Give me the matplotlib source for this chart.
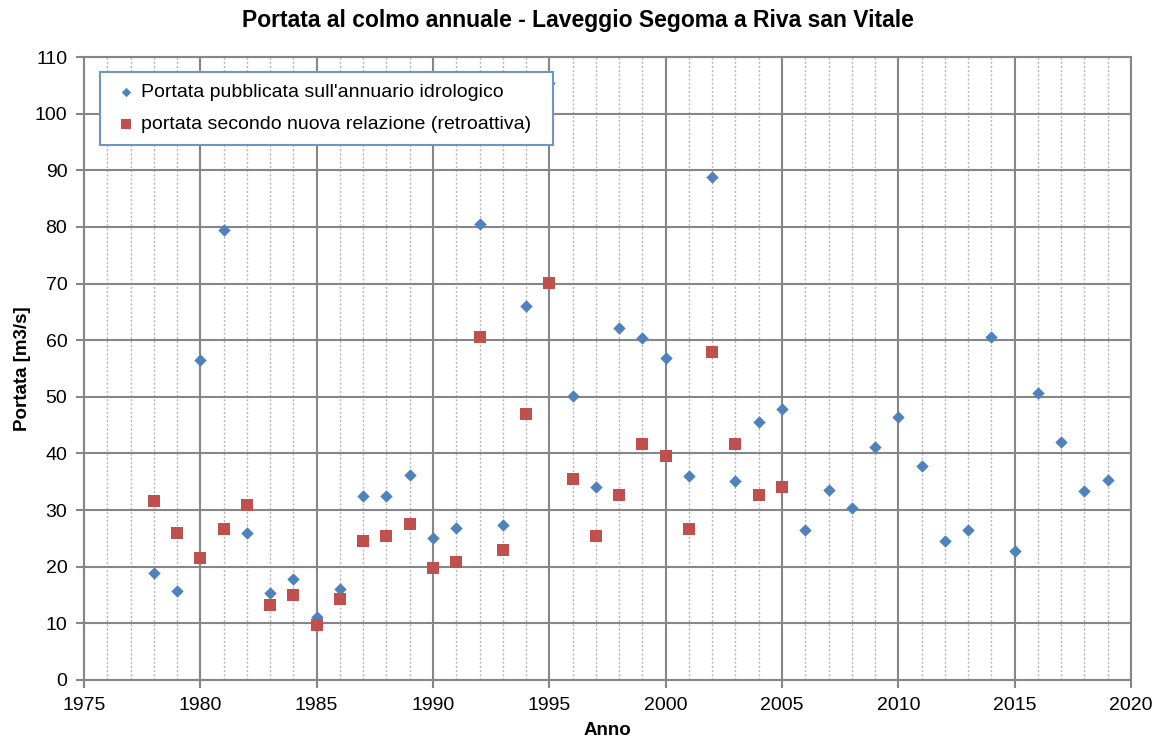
import numpy as np
import matplotlib
matplotlib.use("Agg")
import matplotlib.pyplot as plt
from matplotlib.ticker import MultipleLocator

plt.rcParams['font.family'] = ['Liberation Sans', 'DejaVu Sans']

# Published discharge (annuario idrologico), 1978-2019
anni_pub = list(range(1978, 2020))
portata_pub = [18.9, 15.7, 56.5, 79.4, 26.0, 15.4, 17.8, 11.2, 16.1, 32.5,
               32.5, 36.2, 25.1, 26.8, 80.6, 27.4, 66.0, 105.4, 50.1, 34.0,
               62.1, 60.3, 56.8, 36.0, 88.9, 35.1, 45.5, 47.9, 26.5, 33.5,
               30.3, 41.1, 46.4, 37.7, 24.5, 26.5, 60.6, 22.8, 50.6, 42.0,
               33.4, 35.3]

# Discharge with the new rating relation (retroactive), 1978-2005
anni_new = list(range(1978, 2006))
portata_new = [31.6, 26.0, 21.6, 26.7, 30.9, 13.2, 15.0, 9.7, 14.3, 24.5,
               25.5, 27.5, 19.8, 20.9, 60.5, 22.9, 47.0, 70.1, 35.5, 25.5,
               32.7, 41.7, 39.5, 26.7, 58.0, 41.7, 32.7, 34.1]

blu = '#4F81BD'
rosso = '#C0504D'
grigio = '#868686'

fig = plt.figure(figsize=(11.55, 7.38), dpi=100)
ax = fig.add_axes([84 / 1155, 1 - 680 / 738, (1131 - 84) / 1155, (680 - 57) / 738])

ax.scatter(anni_pub, portata_pub, marker='D', s=40, color=blu, linewidths=0,
           label="Portata pubblicata sull'annuario idrologico", zorder=3)
ax.scatter(anni_new, portata_new, marker='s', s=75, color=rosso, linewidths=0,
           label="portata secondo nuova relazione (retroattiva)", zorder=3)

ax.set_xlim(1975, 2020)
ax.set_ylim(0, 110)
ax.xaxis.set_major_locator(MultipleLocator(5))
ax.xaxis.set_minor_locator(MultipleLocator(1))
ax.yaxis.set_major_locator(MultipleLocator(10))

ax.grid(which='major', color=grigio, linewidth=1.5, zorder=0)
ax.grid(which='minor', axis='x', color='#b5b5b5', linewidth=1.0,
        linestyle=(0, (1.5, 1.5)), zorder=0)
ax.set_axisbelow(True)

for s in ax.spines.values():
    s.set_color(grigio)
    s.set_linewidth(1.5)

ax.tick_params(which='major', direction='out', length=6, width=1.5,
               color=grigio, labelsize=14, pad=6)
ax.tick_params(which='minor', length=0)

ax.set_xlabel('Anno', fontsize=13.5, fontweight='bold', labelpad=6)
ax.set_ylabel('Portata [m3/s]', fontsize=13.5, fontweight='bold', labelpad=3)
fig.suptitle('Portata al colmo annuale - Laveggio Segoma a Riva san Vitale',
             fontsize=16.5, fontweight='bold', y=0.988)

leg = ax.legend(loc='upper left', mode='expand',
                bbox_to_anchor=(16 / 1047, (680 - 143) / 623, 453 / 1047, 71 / 623),
                borderaxespad=0, fontsize=14, frameon=True, fancybox=False,
                framealpha=1, edgecolor='#6F94C6', handletextpad=0.0,
                borderpad=0.6, labelspacing=0.75, markerscale=0.75,
                handlelength=1.5)
leg.get_frame().set_linewidth(1.5)
leg.set_zorder(5)

fig.savefig('out.png', dpi=100)
